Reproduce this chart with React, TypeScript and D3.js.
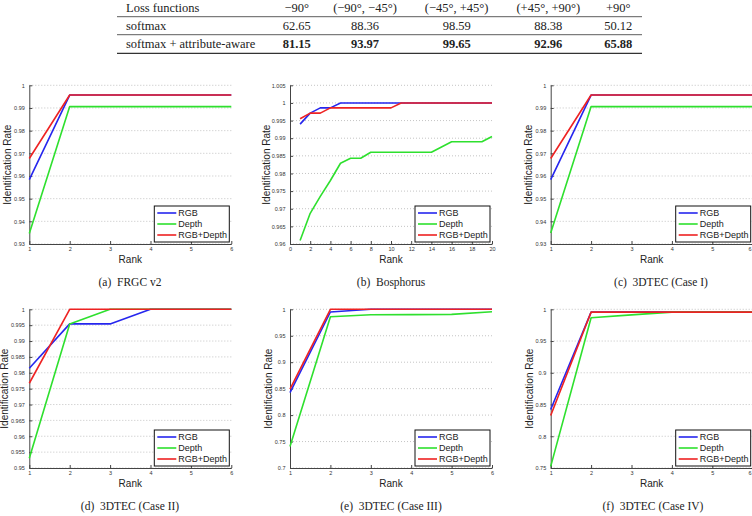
import React, { useEffect, useRef } from 'react';
import * as d3 from 'd3';

// ---- table at the top ----
const tableHeader = ['Loss functions', '\u221290\u00b0', '(\u221290\u00b0, \u221245\u00b0)', '(\u221245\u00b0, +45\u00b0)', '(+45\u00b0, +90\u00b0)', '+90\u00b0'];
const lossNames = ['softmax', 'softmax + attribute-aware'];
const softmaxVals = ['62.65', '88.36', '98.59', '88.38', '50.12'];
const attrAwareVals = ['81.15', '93.97', '99.65', '92.96', '65.88'];

// ---- curves ----
const legendNames = ['RGB', 'Depth', 'RGB+Depth'];
const lineColors = ['#2626ee', '#2ee02e', '#ee2222'];

const ranks6 = [1, 2, 3, 4, 5, 6];
const ranks20 = [1, 2, 3, 4, 5, 6, 7, 8, 9, 10, 11, 12, 13, 14, 15, 16, 17, 18, 19, 20];

const frgcRgb = [0.9584, 0.9957, 0.9957, 0.9957, 0.9957, 0.9957];
const frgcDepth = [0.9346, 0.9906, 0.9906, 0.9906, 0.9906, 0.9906];
const frgcFused = [0.9677, 0.9957, 0.9957, 0.9957, 0.9957, 0.9957];

const bosRgb = [0.994, 0.9971, 0.9986, 0.9986, 1, 1, 1, 1, 1, 1, 1, 1, 1, 1, 1, 1, 1, 1, 1, 1];
const bosDepth = [0.961, 0.9687, 0.9735, 0.978, 0.9829, 0.9843, 0.9843, 0.986, 0.986, 0.986, 0.986, 0.986, 0.986, 0.986, 0.9875, 0.989, 0.989, 0.989, 0.989, 0.9905];
const bosFused = [0.9955, 0.9971, 0.9971, 0.9986, 0.9986, 0.9986, 0.9986, 0.9986, 0.9986, 0.9986, 1, 1, 1, 1, 1, 1, 1, 1, 1, 1];

const case1Rgb = [0.9584, 0.9957, 0.9957, 0.9957, 0.9957, 0.9957];
const case1Depth = [0.9349, 0.9906, 0.9906, 0.9906, 0.9906, 0.9906];
const case1Fused = [0.9677, 0.9957, 0.9957, 0.9957, 0.9957, 0.9957];

const case2Rgb = [0.9814, 0.9954, 0.9954, 1, 1, 1];
const case2Depth = [0.9531, 0.9954, 1, 1, 1, 1];
const case2Fused = [0.9767, 1, 1, 1, 1, 1];

const case3Rgb = [0.8426, 0.9949, 1, 1, 1, 1];
const case3Depth = [0.7408, 0.9859, 0.9897, 0.99, 0.9904, 0.9955];
const case3Fused = [0.849, 1, 1, 1, 1, 1];

const case4Rgb = [0.8421, 0.9955, 0.9955, 0.9955, 0.9955, 0.9955];
const case4Depth = [0.7526, 0.9868, 0.9912, 0.9955, 0.9955, 0.9955];
const case4Fused = [0.8326, 0.9955, 0.9955, 0.9955, 0.9955, 0.9955];

// tick labels
const rankTicks6 = [1, 2, 3, 4, 5, 6];
const rankTicks20 = [0, 2, 4, 6, 8, 10, 12, 14, 16, 18, 20];
const yTicksA = [0.93, 0.94, 0.95, 0.96, 0.97, 0.98, 0.99, 1];
const yTicksB = [0.96, 0.965, 0.97, 0.975, 0.98, 0.985, 0.99, 0.995, 1, 1.005];
const yTicksD = [0.95, 0.955, 0.96, 0.965, 0.97, 0.975, 0.98, 0.985, 0.99, 0.995, 1];
const yTicksE = [0.7, 0.75, 0.8, 0.85, 0.9, 0.95, 1];
const yTicksF = [0.75, 0.8, 0.85, 0.9, 0.95, 1];

const captions = ['(a)  FRGC v2', '(b)  Bosphorus', '(c)  3DTEC (Case I)', '(d)  3DTEC (Case II)', '(e)  3DTEC (Case III)', '(f)  3DTEC (Case IV)'];

const W = 752;
const PW = 202, PH = 158.7;
const sans = 'Liberation Sans, Arial, sans-serif';
const serif = 'Liberation Serif, Times New Roman, serif';

const panels = [
  { left: 29.3, top: 85.3, xs: ranks6, xDom: [1, 6], xTicks: rankTicks6, yDom: [0.93, 1], yTicks: yTicksA, series: [frgcRgb, frgcDepth, frgcFused], labGap: 22, capX: 130 },
  { left: 290, top: 85.3, xs: ranks20, xDom: [0, 20], xTicks: rankTicks20, yDom: [0.96, 1.005], yTicks: yTicksB, series: [bosRgb, bosDepth, bosFused], labGap: 23.5, capX: 391 },
  { left: 550.7, top: 85.3, xs: ranks6, xDom: [1, 6], xTicks: rankTicks6, yDom: [0.93, 1], yTicks: yTicksA, series: [case1Rgb, case1Depth, case1Fused], labGap: 22, capX: 661 },
  { left: 29.3, top: 309.3, xs: ranks6, xDom: [1, 6], xTicks: rankTicks6, yDom: [0.95, 1], yTicks: yTicksD, series: [case2Rgb, case2Depth, case2Fused], labGap: 25, capX: 130 },
  { left: 290, top: 309.3, xs: ranks6, xDom: [1, 6], xTicks: rankTicks6, yDom: [0.7, 1], yTicks: yTicksE, series: [case3Rgb, case3Depth, case3Fused], labGap: 21.5, capX: 391 },
  { left: 550.7, top: 309.3, xs: ranks6, xDom: [1, 6], xTicks: rankTicks6, yDom: [0.75, 1], yTicks: yTicksF, series: [case4Rgb, case4Depth, case4Fused], labGap: 21.5, capX: 653 },
];

export default function App() {
  const ref = useRef<SVGSVGElement>(null);

  useEffect(() => {
    const svg = d3.select(ref.current);
    svg.selectAll('*').remove();

    // table
    const tbl = svg.append('g').attr('font-family', serif).attr('font-size', 12.5).attr('fill', '#222');
    const colX = [296.7, 365, 456.7, 548.3, 618.3];
    const rowY = [11.5, 30.2, 48.3];
    tbl.append('text').attr('x', 126).attr('y', rowY[0]).text(tableHeader[0]);
    tableHeader.slice(1).forEach((h, i) => {
      tbl.append('text').attr('x', colX[i]).attr('y', rowY[0]).attr('text-anchor', 'middle').text(h);
    });
    [softmaxVals, attrAwareVals].forEach((vals, r) => {
      tbl.append('text').attr('x', 126).attr('y', rowY[r + 1]).text(lossNames[r]);
      vals.forEach((v, i) => {
        tbl.append('text').attr('x', colX[i]).attr('y', rowY[r + 1]).attr('text-anchor', 'middle')
          .attr('font-weight', r === 1 ? 'bold' : 'normal').text(v);
      });
    });
    [[16.7, 0.8], [34.7, 0.8], [53.3, 1.3]].forEach(([yy, w]) => {
      tbl.append('line').attr('x1', 117).attr('x2', 642).attr('y1', yy).attr('y2', yy)
        .attr('stroke', '#333').attr('stroke-width', w);
    });

    panels.forEach((p, pi) => {
      const g = svg.append('g');
      const x = d3.scaleLinear().domain(p.xDom).range([p.left, p.left + PW]);
      const y = d3.scaleLinear().domain(p.yDom).range([p.top + PH, p.top]);
      const bottom = p.top + PH;

      // dotted y grid
      g.selectAll('line.grid').data(p.yTicks).join('line')
        .attr('x1', p.left).attr('x2', p.left + PW)
        .attr('y1', d => y(d)).attr('y2', d => y(d))
        .attr('stroke', '#aaa').attr('stroke-width', 0.7).attr('stroke-dasharray', '1,2');

      const fmt = (d: any) => String(+(+d).toFixed(3));
      const ax = g.append('g').attr('transform', `translate(${p.left},0)`)
        .call(d3.axisLeft(y).tickValues(p.yTicks).tickSize(-3).tickSizeOuter(0).tickPadding(4.5).tickFormat(fmt));
      const bx = g.append('g').attr('transform', `translate(0,${bottom})`)
        .call(d3.axisBottom(x).tickValues(p.xTicks).tickSize(-3).tickSizeOuter(0).tickPadding(3).tickFormat(fmt));
      [ax, bx].forEach(a => {
        a.select('.domain').attr('stroke', '#444').attr('stroke-width', 1);
        a.selectAll('.tick line').attr('stroke', '#444');
        a.selectAll('text').attr('font-family', sans).attr('font-size', 5.5).attr('fill', '#333');
      });
      // last tick label sits on the page edge for the right column: keep it inside
      bx.selectAll<SVGTextElement, number>('.tick text')
        .filter(d => x(d) > W - 3)
        .attr('text-anchor', 'end').attr('dx', W - 1 - x(p.xTicks[p.xTicks.length - 1]));

      // curves
      const line = d3.line<number>().x((_, i) => x(p.xs[i])).y(d => y(d));
      p.series.forEach((s, si) => {
        g.append('path').datum(s).attr('d', line).attr('fill', 'none')
          .attr('stroke', lineColors[si]).attr('stroke-width', 1.6).attr('stroke-linejoin', 'round');
      });

      // axis titles
      g.append('text').attr('x', p.left + PW / 2).attr('y', bottom + 18.5).attr('text-anchor', 'middle')
        .attr('font-family', sans).attr('font-size', 10).attr('fill', '#222').text('Rank');
      g.append('text').attr('transform', `translate(${p.left - p.labGap},${p.top + PH / 2}) rotate(-90)`)
        .attr('text-anchor', 'middle').attr('dy', '0.35em')
        .attr('font-family', sans).attr('font-size', 10).attr('fill', '#222').text('Identification Rate');

      // legend
      const lx = p.left + PW - 77, ly = bottom - 38;
      const lg = g.append('g').attr('transform', `translate(${lx},${ly})`);
      lg.append('rect').attr('width', 75).attr('height', 36).attr('fill', '#fff').attr('stroke', '#111').attr('stroke-width', 1);
      legendNames.forEach((n, i) => {
        const yy = 7 + i * 11;
        lg.append('line').attr('x1', 3).attr('x2', 22).attr('y1', yy).attr('y2', yy)
          .attr('stroke', lineColors[i]).attr('stroke-width', 1.6);
        lg.append('text').attr('x', 24).attr('y', yy).attr('dy', '0.35em')
          .attr('font-family', sans).attr('font-size', 9).attr('fill', '#222').text(n);
      });

      // caption
      svg.append('text').attr('x', p.capX).attr('y', bottom + 41.5).attr('text-anchor', 'middle')
        .attr('font-family', serif).attr('font-size', 11.5).attr('fill', '#222')
        .style('white-space', 'pre').text(captions[pi]);
    });
  }, []);

  return (
    <div style={{ position: 'absolute', left: 0, top: 0 }}>
      <svg ref={ref} width={W} height={516} style={{ display: 'block', background: '#fff' }} />
    </div>
  );
}
